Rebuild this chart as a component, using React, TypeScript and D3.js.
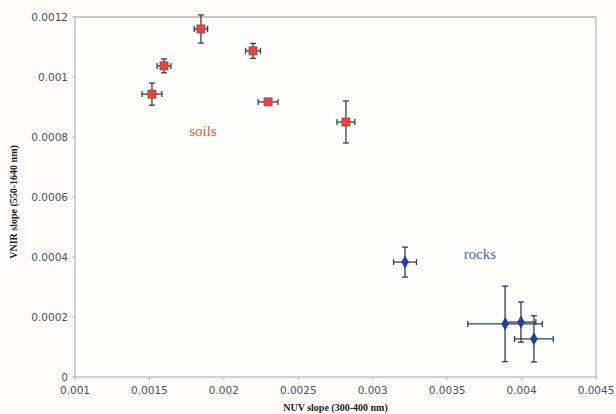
import * as d3 from 'd3';

const W = 616;
const H = 414;
const [mt, mr, mb, ml] = [17, 20, 37, 75];

// soils
const soilX = [0.001517, 0.001598, 0.001846, 0.002196, 0.002297, 0.00282];
const soilY = [0.000943, 0.001037, 0.00116, 0.001087, 0.000917, 0.00085];
const soilXErr = [0.000067, 0.000047, 0.000045, 0.00005, 0.000067, 0.00006];
const soilYErr = [0.000037, 0.000023, 0.000047, 0.000025, 0.000008, 0.00007];

// rocks
const rockX = [0.003217, 0.003889, 0.003996, 0.004083];
const rockY = [0.000383, 0.000177, 0.000183, 0.000127];
const rockXErr = [0.000077, 0.00025, 0.0001, 0.00013];
const rockYErr = [0.00005, 0.000126, 0.000067, 0.000077];

const xTicks = [0.001, 0.0015, 0.002, 0.0025, 0.003, 0.0035, 0.004, 0.0045];
const yTicks = [0, 0.0002, 0.0004, 0.0006, 0.0008, 0.001, 0.0012];

const errColor = '#2f3f4f';

type Pt = { x: number; y: number; ex: number; ey: number };

const soils: Pt[] = soilX.map((x, i) => ({ x, y: soilY[i], ex: soilXErr[i], ey: soilYErr[i] }));
const rocks: Pt[] = rockX.map((x, i) => ({ x, y: rockY[i], ex: rockXErr[i], ey: rockYErr[i] }));

export default function App() {
    const x = d3.scaleLinear().domain([0.001, 0.0045]).range([ml, W - mr]);
    const y = d3.scaleLinear().domain([0, 0.0012]).range([H - mb, mt]);
    const cap = 3;

    const errBars = (pts: Pt[], key: string) =>
        pts.map((p, i) => {
            const cx = x(p.x);
            const cy = y(p.y);
            const x0 = x(p.x - p.ex);
            const x1 = x(p.x + p.ex);
            const y0 = y(p.y - p.ey);
            const y1 = y(p.y + p.ey);
            return (
                <g key={key + i} stroke={errColor} strokeWidth={1.3}>
                    <line x1={x0} x2={x1} y1={cy} y2={cy} />
                    <line x1={x0} x2={x0} y1={cy - cap} y2={cy + cap} />
                    <line x1={x1} x2={x1} y1={cy - cap} y2={cy + cap} />
                    <line x1={cx} x2={cx} y1={y0} y2={y1} />
                    <line x1={cx - cap} x2={cx + cap} y1={y0} y2={y0} />
                    <line x1={cx - cap} x2={cx + cap} y1={y1} y2={y1} />
                </g>
            );
        });

    return (
        <svg width={W} height={H} style={{ position: 'absolute', left: 0, top: 0, background: '#fdfcfa' }}>
            <rect
                x={ml}
                y={mt}
                width={W - mr - ml}
                height={H - mt - mb}
                fill="#fefefd"
                stroke="#aab6c0"
                strokeWidth={1.2}
            />
            <line x1={ml} x2={W - mr} y1={mt} y2={mt} stroke="#d8b4a8" strokeWidth={1} />
            {yTicks.map((t) => (
                <g key={'y' + t}>
                    <line x1={ml - 3} x2={ml} y1={y(t)} y2={y(t)} stroke="#aab6c0" />
                    <text
                        x={ml - 7}
                        y={y(t)}
                        dy="0.35em"
                        textAnchor="end"
                        fontFamily="DejaVu Sans"
                        fontSize={10.5}
                        fill="#4a525a"
                    >
                        {t === 0 ? '0' : String(t)}
                    </text>
                </g>
            ))}
            {xTicks.map((t) => (
                <g key={'x' + t}>
                    <line x1={x(t)} x2={x(t)} y1={H - mb} y2={H - mb + 3} stroke="#aab6c0" />
                    <text
                        x={x(t)}
                        y={H - mb + 17}
                        textAnchor="middle"
                        fontFamily="DejaVu Sans"
                        fontSize={10.5}
                        fill="#4a525a"
                    >
                        {String(t)}
                    </text>
                </g>
            ))}
            <text
                x={(ml + W - mr) / 2}
                y={H - 3}
                textAnchor="middle"
                fontFamily="Liberation Serif"
                fontWeight="bold"
                fontSize={10}
                fill="#222"
            >
                NUV slope (300-400 nm)
            </text>
            <text
                transform={`translate(17, ${(mt + H - mb) / 2 + 5}) rotate(-90)`}
                textAnchor="middle"
                fontFamily="Liberation Serif"
                fontWeight="bold"
                fontSize={10}
                fill="#222"
            >
                VNIR slope (550-1640 nm)
            </text>
            {errBars(soils, 's')}
            {errBars(rocks, 'r')}
            {soils.map((p, i) => (
                <rect
                    key={'sm' + i}
                    x={x(p.x) - 4}
                    y={y(p.y) - 4}
                    width={8}
                    height={8}
                    fill="#e8463c"
                    stroke="#a03a38"
                    strokeWidth={0.8}
                />
            ))}
            {rocks.map((p, i) => (
                <path
                    key={'rm' + i}
                    d={d3.symbol(d3.symbolDiamond, 40)() || ''}
                    transform={`translate(${x(p.x)},${y(p.y)})`}
                    fill="#1d3fb0"
                    stroke="#16307e"
                    strokeWidth={0.6}
                />
            ))}
            <text x={x(0.00186)} y={y(0.000805)} textAnchor="middle" fontFamily="Liberation Serif" fontSize={15} fill="#e8543c">
                soils
            </text>
            <text x={x(0.00372)} y={y(0.000395)} textAnchor="middle" fontFamily="Liberation Serif" fontSize={15} fill="#3a68c8">
                rocks
            </text>
        </svg>
    );
}
